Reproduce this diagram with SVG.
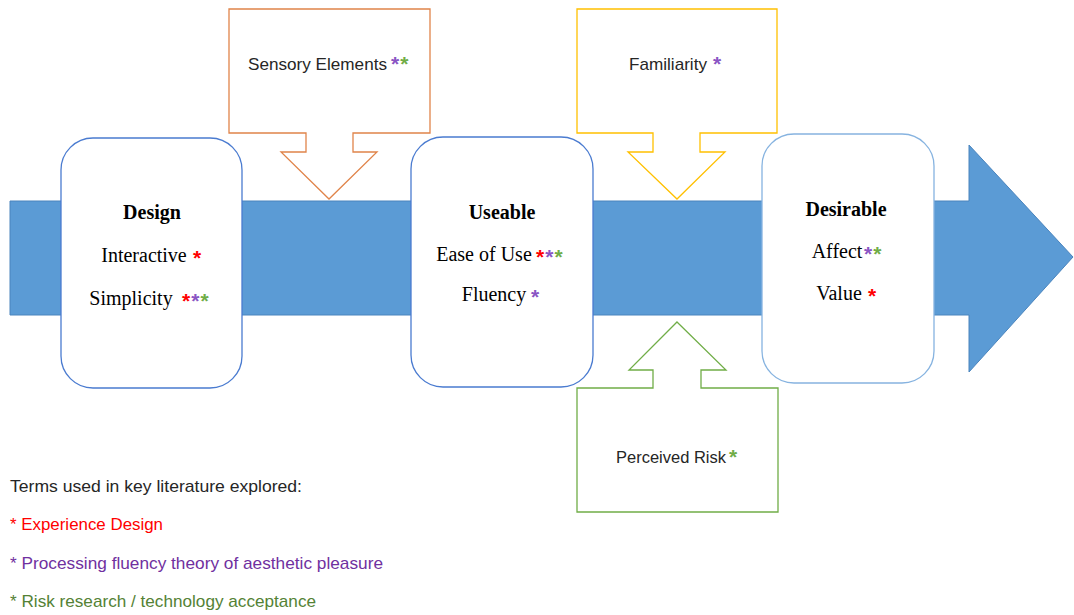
<svg xmlns="http://www.w3.org/2000/svg" width="1074" height="615" viewBox="0 0 1074 615">
  <style>
    .stage { fill: #ffffff; stroke-width: 1.3; }
    .serif { font-family: "Liberation Serif", "Times New Roman", serif; font-size: 20px; fill: #000000; text-anchor: middle; }
    .title { font-weight: bold; }
    .sans { font-family: "Liberation Sans", Arial, sans-serif; font-size: 17px; fill: #262626; }
    .star { font-family: "Liberation Sans", Arial, sans-serif; font-size: 21px; font-weight: bold; letter-spacing: 1px; }
    .red { fill: #ff0000; }
    .purple { fill: #7030a0; }
    .green { fill: #548235; }
    .star .purple, .star.purple { fill: #8a55c4; }
    .star .green, .star.green { fill: #70ad47; }
    .callout { fill: #ffffff; stroke-width: 1.3; }
  </style>

  <!-- main process arrow running left to right -->
  <g id="connectors">
    <polygon points="10,201 969,201 969,145 1073,257 969,372 969,315 10,315" fill="#5b9bd5" stroke="#4a84bd" stroke-width="1"/>
  </g>

  <!-- stage: Design -->
  <g id="node-design">
    <rect class="stage" x="61" y="138" width="181" height="250" rx="32" stroke="#4a7bd0"/>
    <text class="serif title" x="152" y="219">Design</text>
    <text class="serif" x="144" y="262">Interactive</text>
    <text class="star red" x="193" y="265">*</text>
    <text class="serif" x="131" y="305">Simplicity</text>
    <text class="star" x="182" y="308"><tspan class="red">*</tspan><tspan class="purple">*</tspan><tspan class="green">*</tspan></text>
  </g>

  <!-- stage: Useable -->
  <g id="node-useable">
    <rect class="stage" x="411" y="137" width="182" height="250" rx="32" stroke="#4a7bd0"/>
    <text class="serif title" x="502" y="219">Useable</text>
    <text class="serif" x="484" y="261">Ease of Use</text>
    <text class="star" x="536" y="264"><tspan class="red">*</tspan><tspan class="purple">*</tspan><tspan class="green">*</tspan></text>
    <text class="serif" x="494" y="301">Fluency</text>
    <text class="star purple" x="531" y="304">*</text>
  </g>

  <!-- stage: Desirable -->
  <g id="node-desirable">
    <rect class="stage" x="762" y="134" width="172" height="249" rx="32" stroke="#86b3e0"/>
    <text class="serif title" x="846" y="216">Desirable</text>
    <text class="serif" x="837" y="258">Affect</text>
    <text class="star" x="864" y="261"><tspan class="purple">*</tspan><tspan class="green">*</tspan></text>
    <text class="serif" x="839" y="300">Value</text>
    <text class="star red" x="868" y="303">*</text>
  </g>

  <!-- influence: Sensory Elements (down arrow callout) -->
  <g id="node-sensory">
    <polygon class="callout" points="229,9 430,9 430,133 353,133 353,152 377,152 329,199 281,152 306,152 306,133 229,133" stroke="#e0844a"/>
    <text class="sans" x="248" y="70" textLength="139" lengthAdjust="spacingAndGlyphs">Sensory Elements</text>
    <text class="star" x="391" y="71"><tspan class="purple">*</tspan><tspan class="green">*</tspan></text>
  </g>

  <!-- influence: Familiarity (down arrow callout) -->
  <g id="node-familiarity">
    <polygon class="callout" points="577,9 777,9 777,133 700,133 700,152 725,152 677,199 628,152 653,152 653,133 577,133" stroke="#ffc000"/>
    <text class="sans" x="629" y="70" textLength="78" lengthAdjust="spacingAndGlyphs">Familiarity</text>
    <text class="star purple" x="713" y="71">*</text>
  </g>

  <!-- influence: Perceived Risk (up arrow callout) -->
  <g id="node-risk">
    <polygon class="callout" points="677,322 726,370 701,370 701,388 778,388 778,512 577,512 577,388 653,388 653,370 629,370" stroke="#70ad47"/>
    <text class="sans" x="616" y="463" textLength="110" lengthAdjust="spacingAndGlyphs">Perceived Risk</text>
    <text class="star green" x="729" y="464">*</text>
  </g>

  <!-- key -->
  <g id="legend">
    <text class="sans" x="10" y="492" textLength="292" lengthAdjust="spacingAndGlyphs">Terms used in key literature explored:</text>
    <text class="sans red" x="10" y="530" textLength="153" lengthAdjust="spacingAndGlyphs">* Experience Design</text>
    <text class="sans purple" x="10" y="569" textLength="373" lengthAdjust="spacingAndGlyphs">* Processing fluency theory of aesthetic pleasure</text>
    <text class="sans green" x="10" y="607" textLength="306" lengthAdjust="spacingAndGlyphs">* Risk research / technology acceptance</text>
  </g>
</svg>
